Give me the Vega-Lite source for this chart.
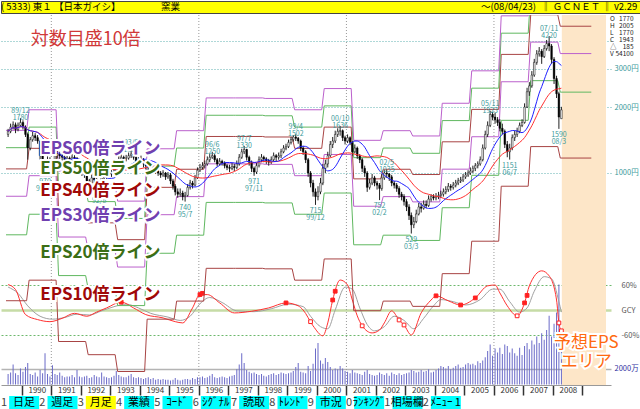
{
"$schema":"https://vega.github.io/schema/vega-lite/v6.json",
"padding":0,
"background":"#ffffff",
"spacing":0,
"config":{"font":"Noto Sans CJK JP","view":{"stroke":null},"concat":{"spacing":0}},
"datasets":{
"candles":[
{"d":"1989-07-15","o":1500,"h":1590,"l":1460,"c":1550,"v":1300},
{"d":"1989-08-15","o":1550,"h":1680,"l":1520,"c":1620,"v":1500},
{"d":"1989-09-15","o":1620,"h":1720,"l":1580,"c":1660,"v":2500},
{"d":"1989-10-15","o":1660,"h":1700,"l":1520,"c":1580,"v":1400},
{"d":"1989-11-15","o":1580,"h":1700,"l":1550,"c":1650,"v":1200},
{"d":"1989-12-15","o":1650,"h":1780,"l":1620,"c":1700,"v":2000},
{"d":"1990-01-15","o":1700,"h":1740,"l":1580,"c":1620,"v":1600},
{"d":"1990-02-15","o":1620,"h":1650,"l":1460,"c":1500,"v":2200},
{"d":"1990-03-15","o":1500,"h":1530,"l":1150,"c":1300,"v":2700},
{"d":"1990-04-15","o":1300,"h":1460,"l":1270,"c":1420,"v":1300},
{"d":"1990-05-15","o":1420,"h":1540,"l":1390,"c":1480,"v":1200},
{"d":"1990-06-15","o":1480,"h":1520,"l":1400,"c":1450,"v":1500},
{"d":"1990-07-15","o":1450,"h":1490,"l":1360,"c":1400,"v":1000},
{"d":"1990-08-15","o":1400,"h":1420,"l":1150,"c":1200,"v":1800},
{"d":"1990-09-15","o":1200,"h":1230,"l":1040,"c":1080,"v":1400},
{"d":"1990-10-15","o":1080,"h":1120,"l":970,"c":1050,"v":3900},
{"d":"1990-11-15","o":1050,"h":1190,"l":1030,"c":1150,"v":1300},
{"d":"1990-12-15","o":1150,"h":1180,"l":1090,"c":1130,"v":1000},
{"d":"1991-01-15","o":1130,"h":1150,"l":1050,"c":1100,"v":2400},
{"d":"1991-02-15","o":1100,"h":1250,"l":1080,"c":1200,"v":1300},
{"d":"1991-03-15","o":1200,"h":1270,"l":1170,"c":1220,"v":1200},
{"d":"1991-04-15","o":1220,"h":1250,"l":1160,"c":1200,"v":1500},
{"d":"1991-05-15","o":1200,"h":1230,"l":1140,"c":1180,"v":1100},
{"d":"1991-06-15","o":1180,"h":1200,"l":1110,"c":1150,"v":900},
{"d":"1991-07-15","o":1150,"h":1210,"l":1120,"c":1170,"v":1000},
{"d":"1991-08-15","o":1170,"h":1190,"l":1090,"c":1140,"v":1000},
{"d":"1991-09-15","o":1140,"h":1220,"l":1120,"c":1180,"v":1200},
{"d":"1991-10-15","o":1180,"h":1210,"l":1130,"c":1170,"v":900},
{"d":"1991-11-15","o":1170,"h":1180,"l":1070,"c":1100,"v":1800},
{"d":"1991-12-15","o":1100,"h":1120,"l":1020,"c":1050,"v":1000},
{"d":"1992-01-15","o":1050,"h":1080,"l":970,"c":1000,"v":900},
{"d":"1992-02-15","o":1000,"h":1030,"l":950,"c":980,"v":1000},
{"d":"1992-03-15","o":980,"h":990,"l":890,"c":920,"v":1100},
{"d":"1992-04-15","o":920,"h":940,"l":870,"c":900,"v":800},
{"d":"1992-05-15","o":900,"h":990,"l":890,"c":950,"v":900},
{"d":"1992-06-15","o":950,"h":970,"l":900,"c":930,"v":1200},
{"d":"1992-07-15","o":930,"h":950,"l":870,"c":900,"v":1000},
{"d":"1992-08-15","o":900,"h":920,"l":850,"c":880,"v":900},
{"d":"1992-09-15","o":880,"h":990,"l":870,"c":950,"v":1500},
{"d":"1992-10-15","o":950,"h":1000,"l":920,"c":960,"v":1000},
{"d":"1992-11-15","o":960,"h":1010,"l":940,"c":980,"v":900},
{"d":"1992-12-15","o":980,"h":1020,"l":960,"c":990,"v":800},
{"d":"1993-01-15","o":990,"h":1030,"l":960,"c":1000,"v":900},
{"d":"1993-02-15","o":1000,"h":1050,"l":980,"c":1020,"v":1100},
{"d":"1993-03-15","o":1020,"h":1140,"l":1010,"c":1100,"v":1700},
{"d":"1993-04-15","o":1100,"h":1200,"l":1080,"c":1150,"v":1200},
{"d":"1993-05-15","o":1150,"h":1220,"l":1130,"c":1180,"v":1000},
{"d":"1993-06-15","o":1180,"h":1200,"l":1120,"c":1160,"v":900},
{"d":"1993-07-15","o":1160,"h":1210,"l":1130,"c":1170,"v":900},
{"d":"1993-08-15","o":1170,"h":1240,"l":1150,"c":1200,"v":1100},
{"d":"1993-09-15","o":1200,"h":1280,"l":1170,"c":1220,"v":1300},
{"d":"1993-10-15","o":1220,"h":1240,"l":1150,"c":1180,"v":900},
{"d":"1993-11-15","o":1180,"h":1190,"l":1080,"c":1120,"v":800},
{"d":"1993-12-15","o":1120,"h":1180,"l":1100,"c":1150,"v":900},
{"d":"1994-01-15","o":1150,"h":1200,"l":1120,"c":1150,"v":800},
{"d":"1994-02-15","o":1150,"h":1170,"l":1060,"c":1100,"v":700},
{"d":"1994-03-15","o":1100,"h":1120,"l":1040,"c":1080,"v":800},
{"d":"1994-04-15","o":1080,"h":1100,"l":1030,"c":1060,"v":900},
{"d":"1994-05-15","o":1060,"h":1120,"l":1040,"c":1080,"v":700},
{"d":"1994-06-15","o":1080,"h":1100,"l":1020,"c":1050,"v":800},
{"d":"1994-07-15","o":1050,"h":1070,"l":990,"c":1020,"v":600},
{"d":"1994-08-15","o":1020,"h":1040,"l":970,"c":1000,"v":700},
{"d":"1994-09-15","o":1000,"h":1020,"l":950,"c":980,"v":600},
{"d":"1994-10-15","o":980,"h":1030,"l":960,"c":1000,"v":700},
{"d":"1994-11-15","o":1000,"h":1010,"l":930,"c":960,"v":600},
{"d":"1994-12-15","o":960,"h":1010,"l":940,"c":980,"v":600},
{"d":"1995-01-15","o":980,"h":1000,"l":890,"c":920,"v":500},
{"d":"1995-02-15","o":920,"h":940,"l":840,"c":870,"v":600},
{"d":"1995-03-15","o":870,"h":890,"l":790,"c":820,"v":800},
{"d":"1995-04-15","o":820,"h":850,"l":770,"c":800,"v":600},
{"d":"1995-05-15","o":800,"h":850,"l":780,"c":810,"v":500},
{"d":"1995-06-15","o":810,"h":830,"l":750,"c":780,"v":600},
{"d":"1995-07-15","o":780,"h":820,"l":740,"c":790,"v":700},
{"d":"1995-08-15","o":790,"h":890,"l":780,"c":860,"v":700},
{"d":"1995-09-15","o":860,"h":930,"l":840,"c":900,"v":600},
{"d":"1995-10-15","o":900,"h":920,"l":850,"c":880,"v":800},
{"d":"1995-11-15","o":880,"h":980,"l":870,"c":950,"v":700},
{"d":"1995-12-15","o":950,"h":1060,"l":940,"c":1030,"v":900},
{"d":"1996-01-15","o":1030,"h":1100,"l":1010,"c":1060,"v":900},
{"d":"1996-02-15","o":1060,"h":1120,"l":1040,"c":1080,"v":1000},
{"d":"1996-03-15","o":1080,"h":1140,"l":1050,"c":1100,"v":800},
{"d":"1996-04-15","o":1100,"h":1190,"l":1080,"c":1150,"v":900},
{"d":"1996-05-15","o":1150,"h":1220,"l":1120,"c":1180,"v":1100},
{"d":"1996-06-15","o":1180,"h":1250,"l":1160,"c":1200,"v":1300},
{"d":"1996-07-15","o":1200,"h":1220,"l":1120,"c":1150,"v":900},
{"d":"1996-08-15","o":1150,"h":1170,"l":1070,"c":1100,"v":800},
{"d":"1996-09-15","o":1100,"h":1170,"l":1080,"c":1130,"v":900},
{"d":"1996-10-15","o":1130,"h":1150,"l":1080,"c":1110,"v":1000},
{"d":"1996-11-15","o":1110,"h":1130,"l":1050,"c":1080,"v":900},
{"d":"1996-12-15","o":1080,"h":1100,"l":1030,"c":1060,"v":800},
{"d":"1997-01-15","o":1060,"h":1090,"l":1010,"c":1050,"v":1000},
{"d":"1997-02-15","o":1050,"h":1110,"l":1030,"c":1070,"v":1100},
{"d":"1997-03-15","o":1070,"h":1100,"l":1020,"c":1060,"v":1200},
{"d":"1997-04-15","o":1060,"h":1140,"l":1040,"c":1100,"v":1900},
{"d":"1997-05-15","o":1100,"h":1220,"l":1080,"c":1180,"v":2500},
{"d":"1997-06-15","o":1180,"h":1290,"l":1160,"c":1250,"v":3900},
{"d":"1997-07-15","o":1250,"h":1330,"l":1220,"c":1280,"v":2700},
{"d":"1997-08-15","o":1280,"h":1290,"l":1140,"c":1180,"v":1800},
{"d":"1997-09-15","o":1180,"h":1200,"l":1080,"c":1120,"v":1600},
{"d":"1997-10-15","o":1120,"h":1140,"l":1010,"c":1050,"v":1400},
{"d":"1997-11-15","o":1050,"h":1070,"l":971,"c":1010,"v":1500},
{"d":"1997-12-15","o":1010,"h":1110,"l":990,"c":1080,"v":1300},
{"d":"1998-01-15","o":1080,"h":1190,"l":1060,"c":1150,"v":1200},
{"d":"1998-02-15","o":1150,"h":1220,"l":1120,"c":1180,"v":1300},
{"d":"1998-03-15","o":1180,"h":1200,"l":1120,"c":1160,"v":1100},
{"d":"1998-04-15","o":1160,"h":1180,"l":1100,"c":1140,"v":1000},
{"d":"1998-05-15","o":1140,"h":1160,"l":1080,"c":1120,"v":1200},
{"d":"1998-06-15","o":1120,"h":1190,"l":1100,"c":1150,"v":1300},
{"d":"1998-07-15","o":1150,"h":1240,"l":1130,"c":1200,"v":1400},
{"d":"1998-08-15","o":1200,"h":1220,"l":1130,"c":1180,"v":1200},
{"d":"1998-09-15","o":1180,"h":1240,"l":1150,"c":1200,"v":1300},
{"d":"1998-10-15","o":1200,"h":1290,"l":1170,"c":1250,"v":1500},
{"d":"1998-11-15","o":1250,"h":1340,"l":1230,"c":1300,"v":1400},
{"d":"1998-12-15","o":1300,"h":1360,"l":1270,"c":1320,"v":1300},
{"d":"1999-01-15","o":1320,"h":1420,"l":1300,"c":1380,"v":1400},
{"d":"1999-02-15","o":1380,"h":1460,"l":1350,"c":1420,"v":1500},
{"d":"1999-03-15","o":1420,"h":1490,"l":1390,"c":1460,"v":1700},
{"d":"1999-04-15","o":1460,"h":1502,"l":1400,"c":1440,"v":2200},
{"d":"1999-05-15","o":1440,"h":1460,"l":1360,"c":1400,"v":2700},
{"d":"1999-06-15","o":1400,"h":1420,"l":1260,"c":1300,"v":1600},
{"d":"1999-07-15","o":1300,"h":1330,"l":1210,"c":1250,"v":1500},
{"d":"1999-08-15","o":1250,"h":1270,"l":1110,"c":1150,"v":1400},
{"d":"1999-09-15","o":1150,"h":1170,"l":960,"c":1000,"v":2300},
{"d":"1999-10-15","o":1000,"h":1020,"l":860,"c":900,"v":1700},
{"d":"1999-11-15","o":900,"h":930,"l":780,"c":820,"v":2600},
{"d":"1999-12-15","o":820,"h":850,"l":715,"c":780,"v":4500},
{"d":"2000-01-15","o":780,"h":870,"l":750,"c":820,"v":5200},
{"d":"2000-02-15","o":820,"h":950,"l":800,"c":900,"v":3000},
{"d":"2000-03-15","o":900,"h":1100,"l":880,"c":1050,"v":2600},
{"d":"2000-04-15","o":1050,"h":1150,"l":1000,"c":1100,"v":3300},
{"d":"2000-05-15","o":1100,"h":1250,"l":1060,"c":1200,"v":2800},
{"d":"2000-06-15","o":1200,"h":1400,"l":1180,"c":1350,"v":2200},
{"d":"2000-07-15","o":1350,"h":1460,"l":1300,"c":1400,"v":1800},
{"d":"2000-08-15","o":1400,"h":1560,"l":1370,"c":1500,"v":2000},
{"d":"2000-09-15","o":1500,"h":1600,"l":1460,"c":1550,"v":1900},
{"d":"2000-10-15","o":1550,"h":1636,"l":1480,"c":1560,"v":2300},
{"d":"2000-11-15","o":1560,"h":1580,"l":1400,"c":1450,"v":2000},
{"d":"2000-12-15","o":1450,"h":1480,"l":1350,"c":1400,"v":1700},
{"d":"2001-01-15","o":1400,"h":1500,"l":1370,"c":1450,"v":1600},
{"d":"2001-02-15","o":1450,"h":1470,"l":1340,"c":1380,"v":1400},
{"d":"2001-03-15","o":1380,"h":1400,"l":1200,"c":1250,"v":1800},
{"d":"2001-04-15","o":1250,"h":1350,"l":1230,"c":1300,"v":1500},
{"d":"2001-05-15","o":1300,"h":1320,"l":1160,"c":1200,"v":1400},
{"d":"2001-06-15","o":1200,"h":1220,"l":1110,"c":1150,"v":1300},
{"d":"2001-07-15","o":1150,"h":1170,"l":1010,"c":1050,"v":1200},
{"d":"2001-08-15","o":1050,"h":1080,"l":960,"c":1000,"v":1600},
{"d":"2001-09-15","o":1000,"h":1020,"l":820,"c":860,"v":1800},
{"d":"2001-10-15","o":860,"h":940,"l":840,"c":900,"v":1300},
{"d":"2001-11-15","o":900,"h":990,"l":880,"c":950,"v":1200},
{"d":"2001-12-15","o":950,"h":970,"l":870,"c":900,"v":1100},
{"d":"2002-01-15","o":900,"h":920,"l":840,"c":880,"v":1200},
{"d":"2002-02-15","o":880,"h":900,"l":752,"c":850,"v":1500},
{"d":"2002-03-15","o":850,"h":990,"l":830,"c":950,"v":1300},
{"d":"2002-04-15","o":950,"h":1030,"l":930,"c":1000,"v":1200},
{"d":"2002-05-15","o":1000,"h":1035,"l":950,"c":990,"v":1400},
{"d":"2002-06-15","o":990,"h":1000,"l":920,"c":960,"v":1100},
{"d":"2002-07-15","o":960,"h":980,"l":870,"c":900,"v":1500},
{"d":"2002-08-15","o":900,"h":920,"l":850,"c":880,"v":1300},
{"d":"2002-09-15","o":880,"h":900,"l":820,"c":850,"v":1200},
{"d":"2002-10-15","o":850,"h":870,"l":770,"c":800,"v":1400},
{"d":"2002-11-15","o":800,"h":820,"l":750,"c":780,"v":1200},
{"d":"2002-12-15","o":780,"h":800,"l":710,"c":740,"v":1300},
{"d":"2003-01-15","o":740,"h":760,"l":670,"c":700,"v":1400},
{"d":"2003-02-15","o":700,"h":720,"l":610,"c":640,"v":1500},
{"d":"2003-03-15","o":640,"h":660,"l":529,"c":580,"v":1800},
{"d":"2003-04-15","o":580,"h":630,"l":560,"c":600,"v":1700},
{"d":"2003-05-15","o":600,"h":680,"l":590,"c":650,"v":1500},
{"d":"2003-06-15","o":650,"h":730,"l":640,"c":700,"v":1600},
{"d":"2003-07-15","o":700,"h":730,"l":660,"c":690,"v":1800},
{"d":"2003-08-15","o":690,"h":750,"l":680,"c":720,"v":1600},
{"d":"2003-09-15","o":720,"h":750,"l":690,"c":710,"v":1700},
{"d":"2003-10-15","o":710,"h":790,"l":700,"c":760,"v":1900},
{"d":"2003-11-15","o":760,"h":800,"l":740,"c":780,"v":1500},
{"d":"2003-12-15","o":780,"h":800,"l":750,"c":770,"v":1600},
{"d":"2004-01-15","o":770,"h":810,"l":750,"c":780,"v":1800},
{"d":"2004-02-15","o":780,"h":820,"l":760,"c":790,"v":2000},
{"d":"2004-03-15","o":790,"h":830,"l":770,"c":800,"v":2300},
{"d":"2004-04-15","o":800,"h":850,"l":780,"c":820,"v":2200},
{"d":"2004-05-15","o":820,"h":870,"l":800,"c":840,"v":2000},
{"d":"2004-06-15","o":840,"h":900,"l":820,"c":870,"v":2300},
{"d":"2004-07-15","o":870,"h":890,"l":830,"c":860,"v":1900},
{"d":"2004-08-15","o":860,"h":910,"l":840,"c":880,"v":2100},
{"d":"2004-09-15","o":880,"h":930,"l":860,"c":900,"v":2300},
{"d":"2004-10-15","o":900,"h":950,"l":880,"c":920,"v":2500},
{"d":"2004-11-15","o":920,"h":960,"l":900,"c":930,"v":2100},
{"d":"2004-12-15","o":930,"h":990,"l":910,"c":960,"v":2200},
{"d":"2005-01-15","o":960,"h":1010,"l":940,"c":980,"v":2500},
{"d":"2005-02-15","o":980,"h":1030,"l":960,"c":1000,"v":2700},
{"d":"2005-03-15","o":1000,"h":1060,"l":980,"c":1020,"v":2500},
{"d":"2005-04-15","o":1020,"h":1080,"l":1000,"c":1050,"v":2600},
{"d":"2005-05-15","o":1050,"h":1110,"l":1020,"c":1080,"v":2400},
{"d":"2005-06-15","o":1080,"h":1130,"l":1050,"c":1100,"v":2900},
{"d":"2005-07-15","o":1100,"h":1190,"l":1080,"c":1150,"v":2700},
{"d":"2005-08-15","o":1150,"h":1350,"l":1130,"c":1300,"v":3000},
{"d":"2005-09-15","o":1300,"h":1560,"l":1280,"c":1500,"v":3400},
{"d":"2005-10-15","o":1500,"h":1720,"l":1460,"c":1650,"v":4200},
{"d":"2005-11-15","o":1650,"h":1923,"l":1620,"c":1850,"v":5000},
{"d":"2005-12-15","o":1850,"h":1900,"l":1740,"c":1800,"v":3600},
{"d":"2006-01-15","o":1800,"h":1880,"l":1680,"c":1750,"v":4500},
{"d":"2006-02-15","o":1750,"h":1800,"l":1640,"c":1700,"v":4000},
{"d":"2006-03-15","o":1700,"h":1760,"l":1550,"c":1600,"v":4600},
{"d":"2006-04-15","o":1600,"h":1680,"l":1500,"c":1550,"v":3800},
{"d":"2006-05-15","o":1550,"h":1580,"l":1300,"c":1350,"v":5000},
{"d":"2006-06-15","o":1350,"h":1400,"l":1180,"c":1250,"v":4800},
{"d":"2006-07-15","o":1250,"h":1360,"l":1151,"c":1300,"v":4000},
{"d":"2006-08-15","o":1300,"h":1500,"l":1270,"c":1450,"v":4500},
{"d":"2006-09-15","o":1450,"h":1560,"l":1400,"c":1500,"v":3900},
{"d":"2006-10-15","o":1500,"h":1610,"l":1460,"c":1550,"v":3600},
{"d":"2006-11-15","o":1550,"h":1700,"l":1520,"c":1650,"v":4600},
{"d":"2006-12-15","o":1650,"h":1760,"l":1620,"c":1700,"v":3700},
{"d":"2007-01-15","o":1700,"h":2080,"l":1680,"c":2000,"v":4800},
{"d":"2007-02-15","o":2000,"h":2450,"l":1980,"c":2350,"v":5200},
{"d":"2007-03-15","o":2350,"h":2600,"l":2250,"c":2500,"v":4400},
{"d":"2007-04-15","o":2500,"h":2920,"l":2450,"c":2800,"v":5500},
{"d":"2007-05-15","o":2800,"h":3320,"l":2750,"c":3200,"v":5000},
{"d":"2007-06-15","o":3200,"h":3640,"l":3120,"c":3500,"v":6000},
{"d":"2007-07-15","o":3500,"h":3760,"l":3400,"c":3600,"v":5200},
{"d":"2007-08-15","o":3600,"h":3680,"l":3150,"c":3400,"v":6400},
{"d":"2007-09-15","o":3400,"h":3840,"l":3350,"c":3700,"v":5600},
{"d":"2007-10-15","o":3700,"h":4050,"l":3620,"c":3900,"v":6800},
{"d":"2007-11-15","o":3900,"h":4220,"l":3600,"c":3800,"v":8600},
{"d":"2007-12-15","o":3800,"h":3880,"l":3150,"c":3300,"v":6000},
{"d":"2008-01-15","o":3300,"h":3380,"l":2550,"c":2700,"v":7600},
{"d":"2008-02-15","o":2700,"h":2780,"l":2200,"c":2300,"v":9000},
{"d":"2008-03-15","o":2300,"h":2350,"l":1590,"c":1800,"v":12500},
{"d":"2008-04-15","o":1770,"h":2005,"l":1770,"c":1943,"v":5410}
],
"eps":[
{"d":"1989-06-19","e":26.1},{"d":"1990-03-01","e":26.1},
{"d":"1990-04-01","e":32.4},{"d":"1991-03-01","e":32.4},
{"d":"1991-04-01","e":17},{"d":"1992-03-01","e":17},
{"d":"1992-04-01","e":14.8},{"d":"1993-03-01","e":14.8},
{"d":"1993-04-01","e":12.4},{"d":"1994-03-01","e":12.4},
{"d":"1994-04-01","e":21.5},{"d":"1995-03-01","e":21.5},
{"d":"1995-04-01","e":26},{"d":"1996-03-01","e":26},
{"d":"1996-04-01","e":36.7},{"d":"1997-03-01","e":36.7},
{"d":"1997-04-01","e":36.7},{"d":"1998-03-01","e":36.7},
{"d":"1998-04-01","e":36.5},{"d":"1999-03-01","e":36.5},
{"d":"1999-04-01","e":32.4},{"d":"2000-03-01","e":32.4},
{"d":"2000-04-01","e":40.5},{"d":"2001-03-01","e":40.5},
{"d":"2001-04-01","e":23.5},{"d":"2002-03-01","e":23.5},
{"d":"2002-04-01","e":26},{"d":"2003-03-01","e":26},
{"d":"2003-04-01","e":24.6},{"d":"2004-03-01","e":24.6},
{"d":"2004-04-01","e":34.7},{"d":"2005-03-01","e":34.7},
{"d":"2005-04-01","e":48.8},{"d":"2006-03-01","e":48.8},
{"d":"2006-04-01","e":87},{"d":"2007-03-01","e":87},
{"d":"2007-04-01","e":132},{"d":"2008-03-01","e":132},
{"d":"2008-04-01","e":117},{"d":"2009-04-20","e":117}
],
"oscR":[
{"d":"1989-07-15","v":61},{"d":"1989-10-15","v":49},{"d":"1990-02-15","v":-11},{"d":"1990-07-15","v":-23},{"d":"1990-12-15","v":-28},
{"d":"1991-05-15","v":-20},{"d":"1991-10-15","v":-8},{"d":"1992-03-15","v":-15},{"d":"1992-07-15","v":-5},{"d":"1992-11-15","v":5},
{"d":"1993-05-15","v":19},{"d":"1993-10-15","v":5},{"d":"1994-03-15","v":-11},{"d":"1994-10-15","v":-19},{"d":"1995-03-15","v":-28},
{"d":"1995-06-15","v":-31},{"d":"1995-10-15","v":5},{"d":"1996-01-15","v":37},{"d":"1996-04-15","v":37},{"d":"1996-09-15","v":17},
{"d":"1997-03-15","v":-7},{"d":"1997-10-15","v":-3},{"d":"1998-05-15","v":5},{"d":"1998-12-15","v":17},{"d":"1999-05-15","v":10},
{"d":"1999-07-15","v":0},{"d":"1999-11-15","v":-38},{"d":"2000-03-15","v":-62},{"d":"2000-05-15","v":-31},{"d":"2000-07-15","v":24},
{"d":"2000-10-15","v":72},{"d":"2001-01-15","v":60},{"d":"2001-03-15","v":24},{"d":"2001-05-15","v":-14},{"d":"2001-07-15","v":-38},
{"d":"2001-11-15","v":-55},{"d":"2002-02-15","v":-48},{"d":"2002-04-15","v":-31},{"d":"2002-07-15","v":-2},{"d":"2002-10-15","v":-24},
{"d":"2002-12-15","v":-36},{"d":"2003-03-15","v":-60},{"d":"2003-07-15","v":-7},{"d":"2003-11-15","v":24},{"d":"2004-01-15","v":34},
{"d":"2004-06-15","v":22},{"d":"2004-11-15","v":12},{"d":"2005-05-15","v":29},{"d":"2005-10-15","v":58},{"d":"2006-01-15","v":60},
{"d":"2006-03-15","v":41},{"d":"2006-06-15","v":10},{"d":"2006-10-15","v":-14},{"d":"2007-01-15","v":17},{"d":"2007-03-15","v":58},
{"d":"2007-08-15","v":94},{"d":"2007-11-15","v":82},{"d":"2008-02-15","v":24},{"d":"2008-03-15","v":-31},{"d":"2008-04-15","v":-50}
],
"oscG":[
{"d":"1989-07-15","v":55},{"d":"1989-11-15","v":40},{"d":"1990-03-15","v":10},{"d":"1990-08-15","v":-15},{"d":"1991-01-15","v":-22},
{"d":"1991-06-15","v":-18},{"d":"1991-11-15","v":-10},{"d":"1992-04-15","v":-12},{"d":"1992-09-15","v":-2},{"d":"1993-02-15","v":8},
{"d":"1993-07-15","v":14},{"d":"1993-12-15","v":5},{"d":"1994-05-15","v":-8},{"d":"1994-12-15","v":-17},{"d":"1995-05-15","v":-25},
{"d":"1995-09-15","v":-15},{"d":"1996-01-15","v":15},{"d":"1996-05-15","v":30},{"d":"1996-10-15","v":18},{"d":"1997-04-15","v":-2},
{"d":"1997-11-15","v":-4},{"d":"1998-06-15","v":3},{"d":"1999-01-15","v":14},{"d":"1999-07-15","v":8},{"d":"1999-10-15","v":-15},
{"d":"2000-02-15","v":-40},{"d":"2000-05-15","v":-45},{"d":"2000-08-15","v":0},{"d":"2000-12-15","v":55},{"d":"2001-03-15","v":50},
{"d":"2001-06-15","v":5},{"d":"2001-09-15","v":-35},{"d":"2001-12-15","v":-50},{"d":"2002-04-15","v":-40},{"d":"2002-08-15","v":-15},
{"d":"2002-12-15","v":-25},{"d":"2003-04-15","v":-45},{"d":"2003-08-15","v":-20},{"d":"2003-12-15","v":10},{"d":"2004-03-15","v":25},
{"d":"2004-08-15","v":20},{"d":"2005-01-15","v":12},{"d":"2005-07-15","v":25},{"d":"2005-12-15","v":50},{"d":"2006-03-15","v":50},
{"d":"2006-07-15","v":20},{"d":"2006-11-15","v":-5},{"d":"2007-02-15","v":5},{"d":"2007-05-15","v":45},{"d":"2007-09-15","v":80},
{"d":"2007-12-15","v":75},{"d":"2008-03-15","v":20},{"d":"2008-04-15","v":-5}
],
"sig":[
{"d":"1993-05-15","v":19,"s":"b"},{"d":"1996-01-15","v":37,"s":"b"},{"d":"1996-02-15","v":40,"s":"b"},{"d":"1998-12-15","v":17,"s":"b"},
{"d":"2000-07-15","v":24,"s":"b"},{"d":"2000-08-15","v":45,"s":"b"},{"d":"2004-01-15","v":34,"s":"b"},{"d":"2004-11-15","v":12,"s":"b"},
{"d":"2005-05-15","v":29,"s":"b"},{"d":"2007-01-15","v":17,"s":"b"},{"d":"2007-02-15","v":35,"s":"b"},
{"d":"1999-10-15","v":-28,"s":"s"},{"d":"2001-07-15","v":-38,"s":"s"},{"d":"2002-10-15","v":-24,"s":"s"},{"d":"2002-12-15","v":-36,"s":"s"},
{"d":"2006-10-15","v":-14,"s":"s"},{"d":"2008-03-15","v":-31,"s":"s"},{"d":"2008-04-15","v":-50,"s":"s"}
],
"hl":[
{"d":"1989-12-15","p":1780,"t":"89/12\n1780","k":"h"},
{"d":"1993-09-15","p":1280,"t":"93/9\n1280","k":"h"},
{"d":"1996-06-15","p":1250,"t":"96/6\n1250","k":"h"},
{"d":"1997-07-15","p":1330,"t":"97/7\n1330","k":"h"},
{"d":"1999-04-15","p":1502,"t":"99/4\n1502","k":"h"},
{"d":"2000-10-15","p":1636,"t":"00/10\n1636","k":"h"},
{"d":"2002-05-15","p":1035,"t":"02/5\n1035","k":"h"},
{"d":"2005-11-15","p":1923,"t":"05/11\n1923","k":"h"},
{"d":"2007-11-15","p":4220,"t":"07/11\n4220","k":"h"},
{"d":"1990-10-15","p":970,"t":"970\n90/10","k":"l"},
{"d":"1992-08-15","p":850,"t":"850\n92/8","k":"l"},
{"d":"1995-07-15","p":740,"t":"740\n95/7","k":"l"},
{"d":"1997-11-15","p":971,"t":"971\n97/11","k":"l"},
{"d":"1999-12-15","p":715,"t":"715\n99/12","k":"l"},
{"d":"2002-02-15","p":752,"t":"752\n02/2","k":"l"},
{"d":"2003-03-15","p":529,"t":"529\n03/3","k":"l"},
{"d":"2006-07-15","p":1151,"t":"1151\n06/7","k":"l"},
{"d":"2008-03-15","p":1590,"t":"1590\n08/3","k":"l"}
]
},
"vconcat":[
{
"width":640,"height":12,
"view":{"fill":"#ffff00","stroke":"#444444"},
"data":{"values":[
{"p":"0","s":"( 5333) 東１ 【日本ガイシ】"},
{"p":"8","s":"窯業"},
{"p":"24","s":"～(08/04/23)"},
{"p":"27","s":"‖ ＧＣＮＥＴ ‖ v2.29"}
]},
"mark":{"type":"text","align":"left","baseline":"middle","fontSize":9.5,"color":"#000000"},
"encoding":{
"x":{"field":"p","type":"ordinal","bandPosition":0,"scale":{"type":"band","paddingInner":0,"paddingOuter":0,"domain":["0","1","2","3","4","5","6","7","8","9","10","11","12","13","14","15","16","17","18","19","20","21","22","23","24","25","26","27","28","29","30","31"]},"axis":null},
"text":{"field":"s"}
}
},
{
"width":610,"height":370,
"encoding":{
"x":{"field":"d","type":"temporal","scale":{"type":"utc","domain":[614217600000,1255910400000]},
"axis":{"values":[631152000000,662688000000,694224000000,725846400000,757382400000,788918400000,820454400000,852076800000,883612800000,915148800000,946684800000,978307200000,1009843200000,1041379200000,1072915200000,1104537600000,1136073600000,1167609600000,1199145600000,1230768000000],
"labelExpr":"utcyear(datum.value) < 2009 ? utcFormat(datum.value, '%Y') : ''","labelOffset":15,"labelPadding":-9,"labelFontSize":8,"labelColor":"#333333","labelFlush":false,"labelOverlap":false,"labelSeparation":0,"labelBound":false,"labelBaseline":"top",
"tickSize":10,"tickColor":"#333333","tickWidth":1.5,"domainColor":"#999999","grid":false,"title":null}}
},
"layer":[
{
"data":{"values":[{"d":"2008-04-20","e":"2009-10-19"}]},
"mark":{"type":"rect","color":"#fde6c8"},
"encoding":{"x2":{"field":"e"}}
},
{
"data":{"values":[{"d":"1991-01-01"},{"d":"1996-01-01"},{"d":"2001-01-01"},{"d":"2006-01-01"}]},
"mark":{"type":"rule","color":"#999999","strokeDash":[1,2],"strokeWidth":1}
},
{
"data":{"name":"candles"},
"mark":{"type":"bar","width":1,"color":"#6a6ac8"},
"encoding":{
"y":{"field":"v","type":"quantitative","scale":{"domain":[0,2000],"range":[369.5,353.5],"nice":false},
"axis":{"orient":"right","values":[2000],"labelExpr":"'2000万'","grid":true,"gridColor":"#b4b4b4","gridWidth":1.5,"ticks":false,"domain":false,"labelPadding":3,"labelFontSize":7.5,"labelColor":"#3030a0","title":null}}
}
},
{
"layer":[
{
"data":{"name":"oscG"},
"mark":{"type":"line","color":"#a0a0a0","strokeWidth":1,"interpolate":"monotone"},
"encoding":{
"y":{"field":"v","type":"quantitative","scale":{"domain":[-60,60],"range":[320,270],"nice":false,"zero":false},
"axis":{"orient":"right","values":[-60,0,60],"labelExpr":"datum.value === 0 ? 'GCY' : datum.value + '%'","grid":true,
"gridColor":{"condition":{"test":"datum.value === 0","value":"#c6dca6"},"value":"#6cb86c"},
"gridDash":{"condition":{"test":"datum.value === 0","value":[1,0]},"value":[2,2]},
"gridWidth":{"condition":{"test":"datum.value === 0","value":2.5},"value":1},
"ticks":false,"domain":false,"labelPadding":10,"labelFontSize":7.5,"labelColor":"#555555","title":null}}
}
},
{
"data":{"name":"oscR"},
"mark":{"type":"line","color":"#ff3030","strokeWidth":1,"interpolate":"monotone"},
"encoding":{"y":{"field":"v","type":"quantitative"}}
},
{
"data":{"name":"sig"},
"mark":{"type":"point","shape":"square","size":14,"filled":true,"strokeWidth":1,"opacity":1},
"encoding":{"y":{"field":"v","type":"quantitative"},
"fill":{"condition":{"test":"datum.s === 'b'","value":"#ff2020"},"value":"#ffffff"},
"stroke":{"value":"#ff2020"}}
}
]
},
{"data":{"name":"eps"},"mark":{"type":"line","clip":true,"color":"#a84444","strokeWidth":1},
"encoding":{"y":{"field":"e","type":"quantitative","scale":{"type":"log","domain":[10.76,526.6],"nice":false},"axis":null}}},
{"data":{"name":"eps"},"mark":{"type":"line","clip":true,"color":"#60b860","strokeWidth":1},
"encoding":{"y":{"field":"e","type":"quantitative","scale":{"type":"log","domain":[5.38,263.3],"nice":false},"axis":null}}},
{"data":{"name":"eps"},"mark":{"type":"line","clip":true,"color":"#bb60cc","strokeWidth":1},
"encoding":{"y":{"field":"e","type":"quantitative","scale":{"type":"log","domain":[3.587,175.53],"nice":false},"axis":null}}},
{"data":{"name":"eps"},"mark":{"type":"line","clip":true,"color":"#a84444","strokeWidth":1},
"encoding":{"y":{"field":"e","type":"quantitative","scale":{"type":"log","domain":[2.69,131.65],"nice":false},"axis":null}}},
{"data":{"name":"eps"},"mark":{"type":"line","clip":true,"color":"#60b860","strokeWidth":1},
"encoding":{"y":{"field":"e","type":"quantitative","scale":{"type":"log","domain":[2.152,105.32],"nice":false},"axis":null}}},
{"data":{"name":"eps"},"mark":{"type":"line","clip":true,"color":"#bb60cc","strokeWidth":1},
"encoding":{"y":{"field":"e","type":"quantitative","scale":{"type":"log","domain":[1.7933,87.77],"nice":false},"axis":null}}},
{
"layer":[
{
"data":{"name":"candles"},
"mark":{"type":"rule","color":"#222222","strokeWidth":1},
"encoding":{
"y":{"field":"l","type":"quantitative","scale":{"type":"log","domain":[107.6,5266],"nice":false},
"axis":{"orient":"right","values":[1000,2000,3000,4000],"labelExpr":"datum.value < 3500 ? datum.value + '円' : ''","grid":true,"gridColor":"#5fb0b0","gridDash":[1,2],"ticks":false,"domain":false,"labelPadding":3,"labelFontSize":7.5,"labelColor":"#3a9a9a","title":null}},
"y2":{"field":"h"}
}
},
{
"data":{"name":"candles"},
"mark":{"type":"bar","width":1.6,"stroke":"#000000","strokeWidth":0.5},
"encoding":{
"y":{"field":"o","type":"quantitative"},
"y2":{"field":"c"},
"fill":{"condition":{"test":"datum.c < datum.o","value":"#000000"},"value":"#ffffff"}
}
},
{
"data":{"name":"candles"},
"transform":[{"window":[{"op":"mean","field":"c","as":"m"}],"frame":[-23,0],"sort":[{"field":"d"}]}],
"mark":{"type":"line","color":"#ff3030","strokeWidth":1,"interpolate":"monotone"},
"encoding":{"y":{"field":"m","type":"quantitative"}}
},
{
"data":{"name":"candles"},
"transform":[{"window":[{"op":"mean","field":"c","as":"m"}],"frame":[-11,0],"sort":[{"field":"d"}]}],
"mark":{"type":"line","color":"#2020ff","strokeWidth":1,"interpolate":"monotone"},
"encoding":{"y":{"field":"m","type":"quantitative"}}
},
{
"data":{"name":"hl"},
"transform":[{"filter":"datum.k === 'h'"}],
"mark":{"type":"text","baseline":"bottom","align":"center","dy":-4,"fontSize":7,"lineHeight":7,"lineBreak":"\n","color":"#3a9a9a"},
"encoding":{"y":{"field":"p","type":"quantitative"},"text":{"field":"t"}}
},
{
"data":{"name":"hl"},
"transform":[{"filter":"datum.k === 'l'"}],
"mark":{"type":"text","baseline":"top","align":"center","dy":2,"fontSize":7,"lineHeight":7,"lineBreak":"\n","color":"#3a9a9a"},
"encoding":{"y":{"field":"p","type":"quantitative"},"text":{"field":"t"}}
},
{
"data":{"values":[{"d":"1990-04-20"}]},
"encoding":{"y":{"datum":4048},"text":{"value":"対数目盛10倍"}},
"layer":[{"mark":{"type":"text","align":"left","baseline":"middle","fontSize":18,"color":"#d03838"}}]
},
{
"data":{"values":[{"d":"1990-08-18"}]},
"encoding":{"y":{"datum":1287},"text":{"value":"EPS60倍ライン"}},
"layer":[{"mark":{"type":"text","align":"left","baseline":"middle","fontSize":17,"fontWeight":"bold","stroke":"#ffffff","strokeWidth":4,"color":"#ffffff"}},{"mark":{"type":"text","align":"left","baseline":"middle","fontSize":17,"fontWeight":"bold","color":"#7040b0"}}]
},
{
"data":{"values":[{"d":"1990-08-18"}]},
"encoding":{"y":{"datum":1043},"text":{"value":"EPS50倍ライン"}},
"layer":[{"mark":{"type":"text","align":"left","baseline":"middle","fontSize":17,"fontWeight":"bold","stroke":"#ffffff","strokeWidth":4,"color":"#ffffff"}},{"mark":{"type":"text","align":"left","baseline":"middle","fontSize":17,"fontWeight":"bold","color":"#3b6e16"}}]
},
{
"data":{"values":[{"d":"1990-08-18"}]},
"encoding":{"y":{"datum":828},"text":{"value":"EPS40倍ライン"}},
"layer":[{"mark":{"type":"text","align":"left","baseline":"middle","fontSize":17,"fontWeight":"bold","stroke":"#ffffff","strokeWidth":4,"color":"#ffffff"}},{"mark":{"type":"text","align":"left","baseline":"middle","fontSize":17,"fontWeight":"bold","color":"#a00808"}}]
},
{
"data":{"values":[{"d":"1990-08-18"}]},
"encoding":{"y":{"datum":636},"text":{"value":"EPS30倍ライン"}},
"layer":[{"mark":{"type":"text","align":"left","baseline":"middle","fontSize":17,"fontWeight":"bold","stroke":"#ffffff","strokeWidth":4,"color":"#ffffff"}},{"mark":{"type":"text","align":"left","baseline":"middle","fontSize":17,"fontWeight":"bold","color":"#7040b0"}}]
},
{
"data":{"values":[{"d":"1990-08-18"}]},
"encoding":{"y":{"datum":431},"text":{"value":"EPS20倍ライン"}},
"layer":[{"mark":{"type":"text","align":"left","baseline":"middle","fontSize":17,"fontWeight":"bold","stroke":"#ffffff","strokeWidth":4,"color":"#ffffff"}},{"mark":{"type":"text","align":"left","baseline":"middle","fontSize":17,"fontWeight":"bold","color":"#3b6e16"}}]
},
{
"data":{"values":[{"d":"1990-08-18"}]},
"encoding":{"y":{"datum":277},"text":{"value":"EPS10倍ライン"}},
"layer":[{"mark":{"type":"text","align":"left","baseline":"middle","fontSize":17,"fontWeight":"bold","stroke":"#ffffff","strokeWidth":4,"color":"#ffffff"}},{"mark":{"type":"text","align":"left","baseline":"middle","fontSize":17,"fontWeight":"bold","color":"#a00808"}}]
},
{
"data":{"values":[{"d":"2009-02-18"}]},
"encoding":{"y":{"datum":166},"text":{"value":"予想EPS\nエリア"}},
"layer":[{"mark":{"type":"text","align":"center","baseline":"middle","fontSize":17,"lineHeight":19,"lineBreak":"\n","stroke":"#ffffff","strokeWidth":4,"color":"#ffffff","dy":-1}},{"mark":{"type":"text","align":"center","baseline":"middle","fontSize":17,"lineHeight":19,"lineBreak":"\n","color":"#ff6a10","dy":-1}}]
},
{
"data":{"values":[{"d":"2009-12-07"}]},
"encoding":{"y":{"datum":5200},"text":{"value":"O\nH\nL\nC\n△\nV"}},
"layer":[{"mark":{"type":"text","align":"left","baseline":"top","fontSize":6.5,"lineHeight":7,"lineBreak":"\n","color":"#222222"}}]
},
{
"data":{"values":[{"d":"2010-09-25"}]},
"encoding":{"y":{"datum":5200},"text":{"value":"1770\n2005\n1770\n1943\n185\n54100"}},
"layer":[{"mark":{"type":"text","align":"right","baseline":"top","fontSize":6.5,"lineHeight":7,"lineBreak":"\n","color":"#222222"}}]
}
]
}
],
"resolve":{"scale":{"y":"independent"},"axis":{"y":"independent"}}
},
{
"width":460,"height":13,
"data":{"values":[
{"k":"a","n":"1","s":"日足"},{"k":"b","n":"2","s":"週足"},{"k":"c","n":"3","s":"月足"},{"k":"d","n":"4","s":"業績"},
{"k":"e","n":"5","s":"ｺｰﾄﾞ"},{"k":"f","n":"6","s":"ｼｸﾞﾅﾙ"},{"k":"g","n":"7","s":"読取"},{"k":"h","n":"8","s":"ﾄﾚﾝﾄﾞ"},
{"k":"i","n":"9","s":"市況"},{"k":"j","n":"0","s":"ﾗﾝｷﾝｸﾞ"},{"k":"k","n":"1","s":"相場欄"},{"k":"l","n":"2","s":"ﾒﾆｭｰ 1"}
]},
"layer":[
{"mark":{"type":"rect","width":30,"xOffset":4},
"encoding":{"x":{"field":"k","type":"ordinal","scale":{"type":"band","paddingInner":0,"paddingOuter":0},"axis":null},
"color":{"condition":{"test":"datum.s === '月足'","value":"#ffff00"},"value":"#00ffff"}}},
{"mark":{"type":"text","align":"left","baseline":"middle","fontSize":11,"color":"#444444"},
"encoding":{"x":{"field":"k","type":"ordinal","bandPosition":0},"text":{"field":"n"}}},
{"mark":{"type":"text","align":"center","baseline":"middle","fontSize":11,"color":"#000000"},
"encoding":{"x":{"field":"k","type":"ordinal","bandPosition":0.6},"text":{"field":"s"}}}
]
}
]
}
